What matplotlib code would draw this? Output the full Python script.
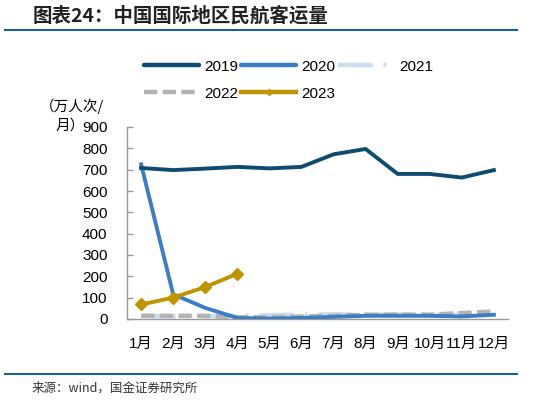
import numpy as np
import matplotlib
matplotlib.use("Agg")
import matplotlib.pyplot as plt
from matplotlib.lines import Line2D

plt.rcParams['font.family'] = ['Liberation Sans', 'Noto Sans CJK SC', 'DejaVu Sans']

months = ["1月", "2月", "3月", "4月", "5月", "6月", "7月", "8月", "9月", "10月", "11月", "12月"]
v2019 = [708, 698, 705, 713, 706, 713, 772, 797, 680, 680, 663, 698]
v2020 = [725, 116, 52, 5, 2, 5, 10, 15, 15, 15, 12, 20]
v2021 = [15, 12, 13, 15, 18, 20, 22, 20, 22, 22, 20, 20]
v2022 = [15, 15, 15, 8, 8, 12, 15, 20, 20, 20, 28, 35]
v2023 = [68, 100, 150, 212]
title = "图表24：中国国际地区民航客运量"
ylabel_lines = ["（万人次/", "月）"]
source = "来源：wind，国金证券研究所"

W, H = 559, 403
fig = plt.figure(figsize=(W / 100, H / 100), dpi=100)
ax = fig.add_axes([127 / W, 1 - 319 / H, (508 - 127) / W, (319 - 127) / H])

x = np.arange(1, 13)
c19, c20, c21, c22, c23 = "#0D4C6E", "#3D7EC3", "#CCDDF0", "#B3B3B3", "#C09300"
d21 = (7.8, 2.4, 0.7, 2.4)
d22 = (3, 1.2)

ax.plot(x, v2021, color=c21, lw=3.2, dashes=d21, zorder=2)
ax.plot(x, v2022, color=c22, lw=3.2, dashes=d22, zorder=3)
ax.plot(x, v2020, color=c20, lw=2.8, zorder=4)
ax.plot(x, v2019, color=c19, lw=2.8, zorder=5)
ax.plot(x[:len(v2023)], v2023, color=c23, lw=2.8, marker="D", ms=6, zorder=6)

ax.set_xlim(0.56, 12.44)
ax.set_ylim(0, 900)
ax.set_yticks(np.arange(0, 901, 100))
ax.set_xticks(x)
ax.set_xticklabels(months)
ax.tick_params(axis="x", length=0, pad=13, labelsize=11)
ax.tick_params(axis="y", direction="in", length=4, width=1, color="#999999", pad=14, labelsize=11)
for s in ["top", "right"]:
    ax.spines[s].set_visible(False)
for s in ["left", "bottom"]:
    ax.spines[s].set_color("#999999")
    ax.spines[s].set_linewidth(1)

handles = [
    Line2D([], [], color=c19, lw=3.2, solid_capstyle="round"),
    Line2D([], [], color=c22, lw=3.2, dashes=d22),
    Line2D([], [], color=c20, lw=3.2, solid_capstyle="round"),
    Line2D([], [], color=c23, lw=3.2, marker="D", ms=3),
    Line2D([], [], color=c21, lw=3.2, dashes=d21),
]
labels = ["2019", "2022", "2020", "2023", "2021"]
fig.legend(handles, labels, ncol=3, loc="upper left", bbox_to_anchor=(136 / W, 1 - 52 / H),
           frameon=False, fontsize=11, handlelength=3.6, handletextpad=0.35,
           columnspacing=0.2, labelspacing=0.85, borderpad=0)

cjk = ['Noto Sans CJK SC', 'DejaVu Sans']
fig.text(72 / W, 1 - 106 / H, ylabel_lines[0], ha="center", va="center", fontsize=10.5, family=cjk)
fig.text(70 / W, 1 - 126 / H, ylabel_lines[1], ha="center", va="center", fontsize=10.5, family=cjk)

fig.text(33 / W, 1 - 16 / H, title, ha="left", va="center", fontsize=14,
         fontweight="bold", color="#222222", family=cjk)
fig.add_artist(Line2D([5 / W, 517 / W], [1 - 30 / H, 1 - 30 / H], color="#1F5F8B", lw=1.5))
fig.add_artist(Line2D([5 / W, 517 / W], [1 - 374 / H, 1 - 374 / H], color="#1F5F8B", lw=1.5))
fig.text(32 / W, 1 - 388 / H, source, ha="left", va="center", fontsize=9,
         color="#333333", family=cjk)

fig.savefig("out.png", dpi=100)
